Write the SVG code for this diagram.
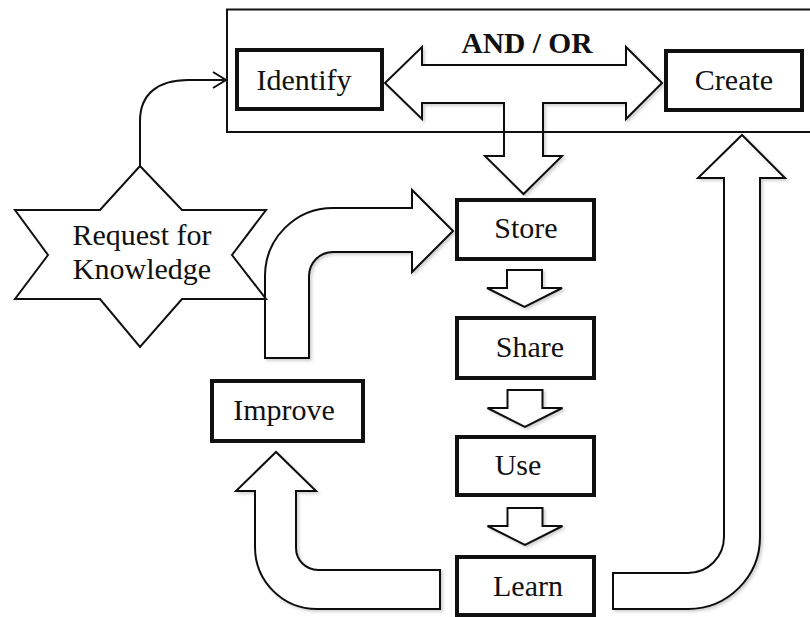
<svg xmlns="http://www.w3.org/2000/svg" xmlns:xlink="http://www.w3.org/1999/xlink" width="810" height="617" viewBox="0 0 810 617">
<style>
  .box { fill: #fff; stroke: #111; stroke-width: 4; }
  .frame { fill: none; stroke: #111; stroke-width: 2; }
  .arrow { fill: #fff; stroke: #111; stroke-width: 2; stroke-linejoin: miter; filter: url(#sh); }
  .line { fill: none; stroke: #111; stroke-width: 2; }
  .lbl { font-family: 'Liberation Serif', 'DejaVu Serif', 'Noto Serif', serif; font-size: 30px; fill: #111; text-anchor: middle; }
  .bold { font-weight: bold; font-size: 29.5px; }
</style>
<defs>
  <filter id="sh" x="-10%" y="-10%" width="130%" height="130%">
    <feDropShadow dx="2" dy="2" stdDeviation="1.5" flood-color="#000" flood-opacity="0.18"/>
  </filter>
  <path id="smallArrow" d="M-17.5,0 L17.5,0 L17.5,18 L37.5,18 L0,37 L-37.5,18 L-17.5,18 Z"/>
</defs>
<rect width="810" height="617" fill="#fff"/>

<g id="connectors">
  <path class="arrow" d="M385,83 L422,47 L422,65 L626,65 L626,47 L662,83 L626,119 L626,103 L543,103 L543,156 L562,156 L523.5,194 L485,156 L504,156 L504,103 L422,103 L422,119 Z"/>
  <path class="line" d="M140,166 L140,121 C140,94 158,80 188,80 L226,80"/>
  <path class="line" d="M213,72 L226,80 L213,88"/>
  <path class="arrow" d="M265,358 L265,276 A68,68 0 0 1 333,208 L412,208 L412,190 L453,231 L412,272 L412,252 L333,252 A24,24 0 0 0 309,276 L309,358 Z"/>
  <use href="#smallArrow" xlink:href="#smallArrow" class="arrow" x="524.5" y="270"/>
  <use href="#smallArrow" xlink:href="#smallArrow" class="arrow" x="525" y="390"/>
  <use href="#smallArrow" xlink:href="#smallArrow" class="arrow" x="525" y="508"/>
  <path class="arrow" d="M440,570 L318,570 A22,22 0 0 1 296,548 L296,491 L316,491 L276,452 L236,491 L255,491 L255,547 A62,62 0 0 0 317,609 L440,609 Z"/>
  <path class="arrow" d="M613,573 L688,573 A36,36 0 0 0 724,537 L724,178 L698,178 L742,135 L785,178 L760,178 L760,537 A72,72 0 0 1 688,609 L613,609 Z"/>
</g>

<g id="container">
  <rect class="frame" x="227" y="9.5" width="600" height="122.5"/>
  <text class="lbl bold" x="527" y="53">AND / OR</text>
</g>

<g id="identify">
  <rect class="box" x="237" y="50" width="145" height="59"/>
  <text class="lbl" x="304" y="90">Identify</text>
</g>
<g id="create">
  <rect class="box" x="666" y="51" width="136" height="59"/>
  <text class="lbl" x="734" y="90">Create</text>
</g>
<g id="store">
  <rect class="box" x="457" y="200" width="137" height="59"/>
  <text class="lbl" x="526" y="238">Store</text>
</g>
<g id="share">
  <rect class="box" x="457" y="318" width="137" height="60"/>
  <text class="lbl" x="530" y="357">Share</text>
</g>
<g id="use">
  <rect class="box" x="457" y="437" width="137" height="58"/>
  <text class="lbl" x="518" y="475">Use</text>
</g>
<g id="learn">
  <rect class="box" x="457" y="557" width="137" height="58"/>
  <text class="lbl" x="528" y="596">Learn</text>
</g>
<g id="improve">
  <rect class="box" x="212" y="381" width="151" height="60"/>
  <text class="lbl" x="284" y="420">Improve</text>
</g>
<g id="request">
  <path class="arrow" style="filter:none" d="M140,166 L182,210 L266,210 L232,255 L266,299 L182,299 L140,347 L100,299 L15,299 L48,255 L15,210 L100,210 Z"/>
  <text class="lbl" x="142" y="245">Request for</text>
  <text class="lbl" x="142" y="279">Knowledge</text>
</g>
</svg>
